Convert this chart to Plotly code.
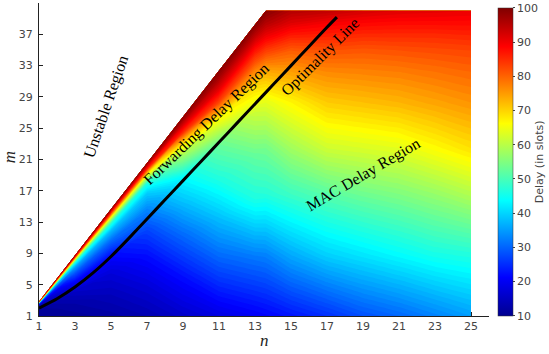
import plotly.graph_objects as go

# ---------------- data ----------------
# grid columns: number of nodes n
n_cols = [1, 3, 5, 7, 9, 11, 13, 13.6, 15, 17, 19, 21, 23, 25]
# upper edge of the stable region at each column (stability limit, capped at m = 40)
m_edge = [2.86, 8.76, 14.66, 20.56, 26.46, 32.36, 38.26, 40, 40, 40, 40, 40, 40, 40]
m_low = 1
# grid rows: fraction of the way from m = 1 up to the upper edge
t_rows = [0, 0.2, 0.4, 0.55, 0.7, 0.8, 0.87, 0.92, 0.96, 1.0]

# delay (in slots) per column, bottom -> top along t_rows
delay_n1 = [10, 10, 10.5, 11, 13, 20, 32, 50, 76, 100]
delay_n3 = [10.5, 12, 15, 20, 28, 35, 44, 58, 80, 100]
delay_n5 = [11.5, 14, 17, 21, 30, 38, 48, 64, 84, 100]
delay_n7 = [13, 17, 22, 26.5, 33, 39, 47, 65, 86, 100]
delay_n9 = [15.5, 22, 30, 37, 44, 57, 70, 85, 93, 100]
delay_n11 = [18, 28, 38, 46, 53, 66, 83, 91, 96, 100]
delay_n13 = [20, 31.5, 46, 52.5, 62, 71, 82, 89, 95, 100]
delay_n13_6 = [20.7, 32.5, 47, 54, 64, 74, 84, 91, 96, 100]
delay_n15 = [22.5, 36, 49, 58, 67, 75, 81, 87, 92, 96]
delay_n17 = [25, 39.5, 51.5, 62, 71, 77, 82, 86.5, 90, 95]
delay_n19 = [28, 41.5, 53.5, 63, 72, 77.5, 81.5, 85.5, 89, 93]
delay_n21 = [30, 43.5, 55, 64, 73, 78, 82, 85.5, 88.5, 92]
delay_n23 = [32.5, 45.5, 57, 66.5, 74.5, 79, 82.5, 85.5, 88.5, 91.5]
delay_n25 = [35, 46.5, 59.5, 69, 76, 80, 83, 86, 88.5, 91]
delay_cols = [delay_n1, delay_n3, delay_n5, delay_n7, delay_n9, delay_n11, delay_n13,
              delay_n13_6, delay_n15, delay_n17, delay_n19, delay_n21, delay_n23, delay_n25]

# optimality line
opt_n = [1, 2, 3, 4, 5, 6, 7, 8, 9, 10, 11, 12, 13, 14, 15, 16, 17, 17.55]
opt_m = [2.0, 3.2, 4.7, 6.5, 8.6, 10.95, 13.4, 15.85, 18.3, 20.75, 23.2, 25.65,
         28.1, 30.55, 33.0, 35.45, 37.9, 39.2]

x_ticks = [1, 3, 5, 7, 9, 11, 13, 15, 17, 19, 21, 23, 25]
y_ticks = [1, 5, 9, 13, 17, 21, 25, 29, 33, 37]
cbar_ticks = [10, 20, 30, 40, 50, 60, 70, 80, 90, 100]
delay_min, delay_max = 10, 100

# ---------------- figure ----------------
grid_x = [[n for n in n_cols] for _ in t_rows]
grid_y = [[m_low + t * (e - m_low) for e in m_edge] for t in t_rows]
grid_z = [[col[j] for col in delay_cols] for j in range(len(t_rows))]

jet = [[0.0, "rgb(0,0,143)"], [0.125, "rgb(0,0,255)"], [0.375, "rgb(0,255,255)"],
       [0.625, "rgb(255,255,0)"], [0.875, "rgb(255,0,0)"], [1.0, "rgb(128,0,0)"]]

hidden_axis = dict(showgrid=False, showline=False, showticklabels="none",
                   startline=False, endline=False, minorgridcount=0, smoothing=0)

tick_font = dict(family="DejaVu Sans", size=11, color="#444")
serif = dict(family="Liberation Serif", size=16, color="black")

fig = go.Figure()
fig.add_trace(go.Carpet(a=n_cols, b=t_rows, x=grid_x, y=grid_y, carpet="grid",
                        aaxis=hidden_axis, baxis=hidden_axis))
fig.add_trace(go.Contourcarpet(
    a=n_cols, b=t_rows, z=grid_z, carpet="grid",
    colorscale=jet, showscale=False,
    autocontour=False,
    contours=dict(start=delay_min, end=delay_max, size=1, coloring="fill", showlines=False),
    line=dict(width=0, smoothing=0),
))

# colour bar carried by the (invisible) grid nodes
flat_x = [v for row in grid_x for v in row]
flat_y = [v for row in grid_y for v in row]
flat_z = [v for row in grid_z for v in row]
fig.add_trace(go.Scatter(
    x=flat_x, y=flat_y, mode="markers", hoverinfo="skip", showlegend=False,
    marker=dict(size=1, opacity=0, color=flat_z, colorscale=jet,
                cmin=delay_min, cmax=delay_max, showscale=True,
                colorbar=dict(x=1.02, xanchor="left", xpad=0, y=0.4925, yanchor="middle",
                              len=0.985, ypad=0, thickness=15, tickvals=cbar_ticks,
                              ticks="outside", ticklen=2, tickcolor="#444",
                              ticklabeloverflow="allow",
                              tickfont=tick_font, outlinewidth=0.5, outlinecolor="#333",
                              title=dict(text="Delay (in slots)", side="right",
                                         font=dict(family="DejaVu Sans", size=11,
                                                   color="#444")))),
))

fig.add_trace(go.Scatter(x=opt_n, y=opt_m, mode="lines",
                         line=dict(color="black", width=3, shape="spline", smoothing=0.6),
                         showlegend=False))

annots = [
    dict(text="Unstable Region", x=4.73, y=27.7, textangle=-71),
    dict(text="Forwarding Delay Region", x=10.32, y=25.5, textangle=-44),
    dict(text="Optimality Line", x=16.63, y=34.1, textangle=-45),
    dict(text="MAC Delay Region", x=19.0, y=19.0, textangle=-30.5),
]
for a in annots:
    fig.add_annotation(xref="x", yref="y", showarrow=False, font=serif, **a)

fig.add_annotation(text="<i>n</i>", xref="paper", yref="paper", x=0.5, y=-0.079,
                   xanchor="center", yanchor="middle", showarrow=False,
                   font=dict(family="Liberation Serif", size=17, color="#222"))
fig.add_annotation(text="<i>m</i>", xref="paper", yref="paper", x=-0.065, y=0.506,
                   xanchor="center", yanchor="middle", textangle=-90, showarrow=False,
                   font=dict(family="Liberation Serif", size=17, color="#222"))

axis_common = dict(showgrid=False, zeroline=False, showline=True, linecolor="#222",
                   linewidth=1, ticks="inside", ticklen=4, tickcolor="#222",
                   tickfont=tick_font, layer="below traces")
fig.update_xaxes(range=[1, 26], tickvals=x_ticks, **axis_common)
fig.update_yaxes(range=[1, 41], tickvals=y_ticks, ticklabelstandoff=3, **axis_common)

fig.update_layout(width=549, height=354, margin=dict(l=39, r=54, t=3, b=38),
                  paper_bgcolor="white", plot_bgcolor="white", showlegend=False)

fig.write_html("out.html")
